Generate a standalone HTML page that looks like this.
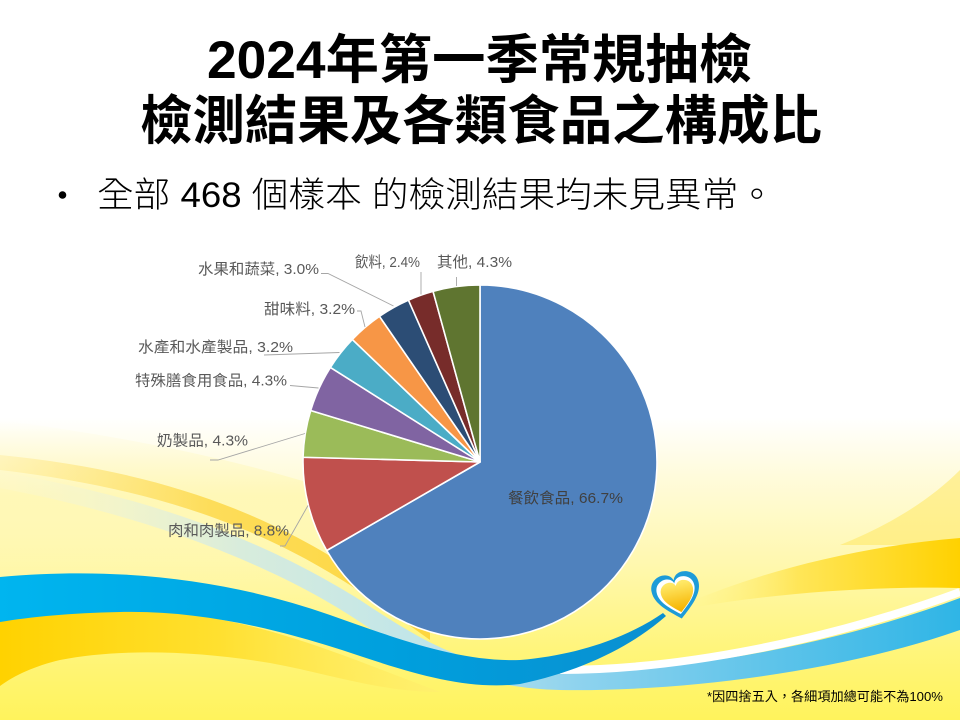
<!DOCTYPE html>
<html>
<head>
<meta charset="utf-8">
<style>
  html,body{margin:0;padding:0;background:#fff;}
  svg{display:block;}
</style>
</head>
<body>
<svg width="960" height="720" viewBox="0 0 960 720" xmlns="http://www.w3.org/2000/svg">
  <defs>
    <linearGradient id="bg" x1="0" y1="0" x2="0" y2="720" gradientUnits="userSpaceOnUse">
      <stop offset="0" stop-color="#ffffff"/>
      <stop offset="0.58" stop-color="#ffffff"/>
      <stop offset="0.66" stop-color="#fffbdc"/>
      <stop offset="0.78" stop-color="#fff8b0"/>
      <stop offset="0.9" stop-color="#fff57c"/>
      <stop offset="1" stop-color="#fff35c"/>
    </linearGradient>
    <linearGradient id="leftPale" x1="0" y1="420" x2="0" y2="610" gradientUnits="userSpaceOnUse">
      <stop offset="0" stop-color="#fff9c8" stop-opacity="0"/>
      <stop offset="0.4" stop-color="#fff7b0" stop-opacity="0.8"/>
      <stop offset="1" stop-color="#fff6a0" stop-opacity="0"/>
    </linearGradient>
    <linearGradient id="blueWave" x1="0" y1="0" x2="670" y2="0" gradientUnits="userSpaceOnUse">
      <stop offset="0" stop-color="#00b5ef"/>
      <stop offset="0.6" stop-color="#009fdd"/>
      <stop offset="1" stop-color="#0a8fd0"/>
    </linearGradient>
    <linearGradient id="goldLeft" x1="0" y1="0" x2="440" y2="0" gradientUnits="userSpaceOnUse">
      <stop offset="0" stop-color="#ffd200"/>
      <stop offset="0.5" stop-color="#ffe030"/>
      <stop offset="1" stop-color="#ffee70" stop-opacity="0.6"/>
    </linearGradient>
    <linearGradient id="goldRight" x1="690" y1="0" x2="960" y2="0" gradientUnits="userSpaceOnUse">
      <stop offset="0" stop-color="#fff07a" stop-opacity="0"/>
      <stop offset="0.4" stop-color="#ffe658"/>
      <stop offset="1" stop-color="#ffd100"/>
    </linearGradient>
    <linearGradient id="ribbon" x1="0" y1="0" x2="960" y2="0" gradientUnits="userSpaceOnUse">
      <stop offset="0" stop-color="#fdf8d0" stop-opacity="0.3"/>
      <stop offset="0.25" stop-color="#d8ecdc"/>
      <stop offset="0.45" stop-color="#bfe5ea"/>
      <stop offset="0.6" stop-color="#8fd3ee"/>
      <stop offset="1" stop-color="#2fb5e6"/>
    </linearGradient>
    <linearGradient id="goldDiag" x1="0" y1="0" x2="420" y2="0" gradientUnits="userSpaceOnUse">
      <stop offset="0" stop-color="#ffe680" stop-opacity="0.3"/>
      <stop offset="0.5" stop-color="#fddd5a"/>
      <stop offset="1" stop-color="#fdd640"/>
    </linearGradient>
    <linearGradient id="heartY" x1="0" y1="-20" x2="0" y2="20" gradientUnits="userSpaceOnUse">
      <stop offset="0" stop-color="#ffe866"/>
      <stop offset="1" stop-color="#f6b400"/>
    </linearGradient>
  </defs>

  <!-- background -->
  <rect x="0" y="0" width="960" height="720" fill="url(#bg)"/>
  <path d="M0,420 C150,440 300,470 440,530 C520,570 560,640 600,720 L0,720 Z" fill="url(#leftPale)"/>
  <path d="M840,545 C890,525 930,500 960,470 L960,545 Z" fill="#ffe860" opacity="0.55"/>

  <!-- diagonal gold band (left, upper) -->
  <path d="M0,455 C100,465 180,485 250,515 C320,545 370,580 430,625 L430,640 C370,597 320,562 250,532 C180,502 100,482 0,470 Z" fill="url(#goldDiag)"/>

  <!-- pale / light blue ribbon -->
  <path d="M0,472 C170,500 280,550 360,600 C420,640 470,670 545,672 C660,675 820,650 960,598 L960,630 C840,672 680,692 560,690 C480,688 420,662 360,622 C290,575 170,520 0,488 Z" fill="url(#ribbon)"/>
  <path d="M560,670 C680,670 830,640 960,592" fill="none" stroke="#ffffff" stroke-width="8"/>

  <!-- right gold band -->
  <path d="M690,602 C760,572 860,546 960,538 L960,588 C880,586 780,592 690,608 Z" fill="url(#goldRight)"/>

  <!-- left gold band beneath blue wave -->
  <path d="M0,612 C60,606 130,606 200,616 C280,628 350,658 440,692 C380,692 330,674 270,663 C200,651 120,648 60,660 C35,666 15,675 0,686 Z" fill="url(#goldLeft)"/>

  <!-- main blue wave -->
  <path d="M0,577 C120,566 230,580 330,615 C400,640 460,662 520,660 C580,655 630,636 663,613 L666,616 C632,646 582,671 520,684 C470,690 420,676 360,656 C280,629 200,610 120,612 C70,613 30,617 0,622 Z" fill="url(#blueWave)"/>

  <!-- heart balloon -->
  <g transform="translate(677,596) rotate(-12)">
    <path d="M0,23 C-12,13 -24,3 -24,-9 C-24,-19 -16,-23 -10,-23 C-5,-23 -1,-20 0,-16 C1,-20 5,-23 10,-23 C16,-23 24,-19 24,-9 C24,3 12,13 0,23 Z" fill="#1d9bd8"/>
    <path transform="scale(0.8)" d="M0,23 C-12,13 -24,3 -24,-9 C-24,-19 -16,-23 -10,-23 C-5,-23 -1,-20 0,-16 C1,-20 5,-23 10,-23 C16,-23 24,-19 24,-9 C24,3 12,13 0,23 Z" fill="#ffffff"/>
    <path transform="translate(1,1) scale(0.68)" d="M0,23 C-12,13 -24,3 -24,-9 C-24,-19 -16,-23 -10,-23 C-5,-23 -1,-20 0,-16 C1,-20 5,-23 10,-23 C16,-23 24,-19 24,-9 C24,3 12,13 0,23 Z" fill="url(#heartY)"/>
  </g>

  <!-- title -->
  <g font-family="'Liberation Sans','Noto Sans CJK TC',sans-serif" font-weight="bold" font-size="53" fill="#000">
    <text x="207" y="78" textLength="545" lengthAdjust="spacingAndGlyphs">2024年第一季常規抽檢</text>
    <text x="140" y="139" textLength="682" lengthAdjust="spacingAndGlyphs">檢測結果及各類食品之構成比</text>
  </g>

  <!-- bullet -->
  <circle cx="62.5" cy="195" r="3.8" fill="#000"/>
  <text x="97" y="207" font-family="'Liberation Sans','Noto Sans CJK TC',sans-serif" font-weight="300" font-size="35" fill="#000" textLength="678" lengthAdjust="spacingAndGlyphs">全部 468 個樣本 的檢測結果均未見異常。</text>

  <!-- pie -->
  <g stroke="#ffffff" stroke-width="1.6" stroke-linejoin="round">
    <path d="M480,462 L480,285 A177,177 0 1 1 326.71,550.5 Z" fill="#4F81BD"/>
    <path d="M480,462 L326.71,550.5 A177,177 0 0 1 303.06,457.25 Z" fill="#C0504D"/>
    <path d="M480,462 L303.06,457.25 A177,177 0 0 1 310.67,410.48 Z" fill="#9BBB59"/>
    <path d="M480,462 L310.67,410.48 A177,177 0 0 1 330.40,367.40 Z" fill="#8064A2"/>
    <path d="M480,462 L330.40,367.40 A177,177 0 0 1 352.32,339.41 Z" fill="#4BACC6"/>
    <path d="M480,462 L352.32,339.41 A177,177 0 0 1 379.45,316.33 Z" fill="#F79646"/>
    <path d="M480,462 L379.45,316.33 A177,177 0 0 1 408.44,300.11 Z" fill="#2C4D75"/>
    <path d="M480,462 L408.44,300.11 A177,177 0 0 1 433.04,291.34 Z" fill="#772C2A"/>
    <path d="M480,462 L433.04,291.34 A177,177 0 0 1 480,285 Z" fill="#5F7530"/>
  </g>

  <!-- leader lines -->
  <g fill="none" stroke="#a6a6a6" stroke-width="0.9">
    <polyline points="321,273.5 328,273.5 393.5,306"/>
    <polyline points="421,272 421,294.5"/>
    <polyline points="456.5,277 456.5,286"/>
    <polyline points="357,311 361,311 365,327"/>
    <polyline points="264,355 339.5,352.5"/>
    <polyline points="290,385.5 318.5,388"/>
    <polyline points="210,460 218,460 305,433.5"/>
    <polyline points="280,546 285,546 308,505.5"/>
  </g>

  <!-- pie labels -->
  <g font-family="'Liberation Sans','Noto Sans CJK TC',sans-serif" font-size="15" fill="#595959">
    <text x="198" y="274" textLength="121" lengthAdjust="spacingAndGlyphs">水果和蔬菜, 3.0%</text>
    <text x="355" y="267" textLength="65" lengthAdjust="spacingAndGlyphs">飲料, 2.4%</text>
    <text x="437" y="267" textLength="75" lengthAdjust="spacingAndGlyphs">其他, 4.3%</text>
    <text x="264" y="314" textLength="91" lengthAdjust="spacingAndGlyphs">甜味料, 3.2%</text>
    <text x="138" y="352" textLength="155" lengthAdjust="spacingAndGlyphs">水產和水產製品, 3.2%</text>
    <text x="135" y="385.5" textLength="152" lengthAdjust="spacingAndGlyphs">特殊膳食用食品, 4.3%</text>
    <text x="157" y="445.5" textLength="91" lengthAdjust="spacingAndGlyphs">奶製品, 4.3%</text>
    <text x="168" y="535.5" textLength="121" lengthAdjust="spacingAndGlyphs">肉和肉製品, 8.8%</text>
    <text x="508" y="503" textLength="115" lengthAdjust="spacingAndGlyphs" fill="#404040">餐飲食品, 66.7%</text>
  </g>

  <!-- footnote -->
  <text x="707" y="701" font-family="'Liberation Sans','Noto Sans CJK TC',sans-serif" font-size="13" fill="#000" textLength="236" lengthAdjust="spacingAndGlyphs">*因四捨五入，各細項加總可能不為100%</text>
</svg>
</body>
</html>
